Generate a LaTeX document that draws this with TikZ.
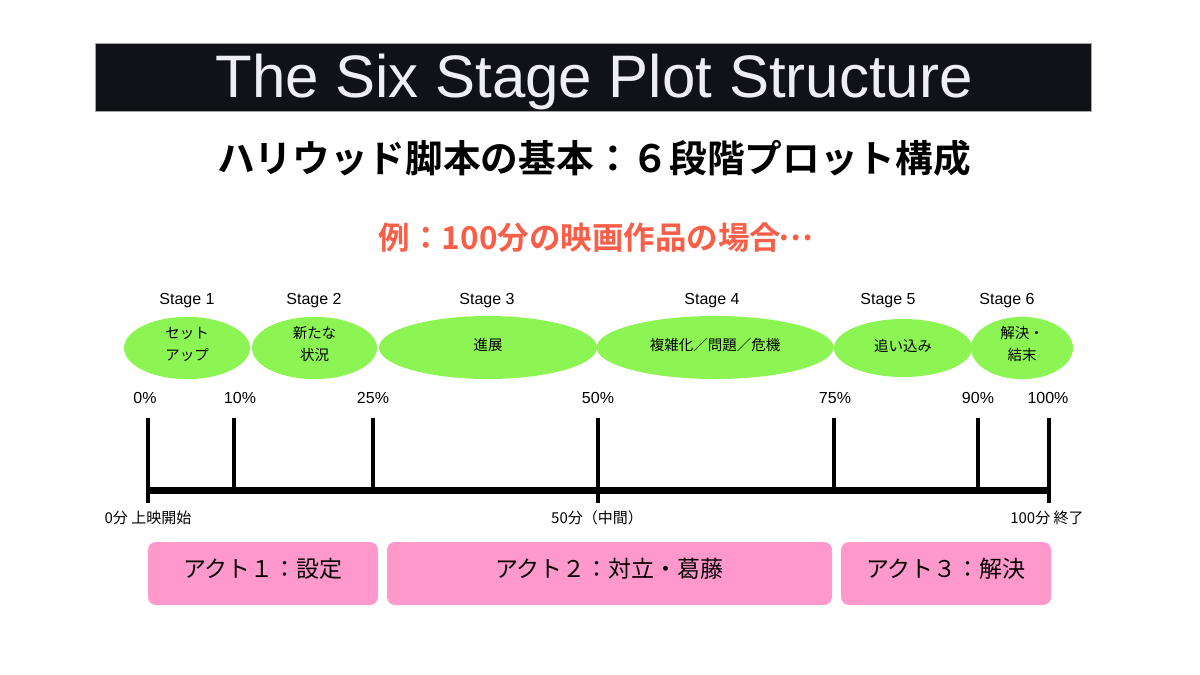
\documentclass[tikz,border=0pt]{standalone}
\usepackage{fontspec}
\setmainfont{Liberation Sans}
\newfontfamily\jpfont{Noto Sans CJK JP}[BoldFont={Noto Sans CJK JP Bold}]
\usetikzlibrary{calc}
\usetikzlibrary{shapes.geometric}

\definecolor{barblack}{HTML}{111217}
\definecolor{titlewhite}{HTML}{EEEEF4}
\definecolor{examplered}{HTML}{F95F48}
\definecolor{stagegreen}{HTML}{8CF553}
\definecolor{actpink}{HTML}{FF99CC}

% lift a label a little inside its shape
\newcommand{\lift}[2]{\raisebox{#1}[\height][\depth]{#2}}
\newcommand{\twolines}[2]{\begin{tabular}{@{}c@{}}#1\\#2\end{tabular}}

\tikzset{
  stagelabel/.style={anchor=base,font=\fontsize{16}{19}\selectfont},
  pctlabel/.style={anchor=base,font=\fontsize{16}{19}\selectfont},
  stageblob/.style={ellipse,fill=stagegreen,inner sep=0pt,align=center,
    font=\jpfont\fontsize{14.5}{22}\selectfont},
  timelabel/.style={font=\jpfont\fontsize{15}{18}\selectfont},
  actbox/.style={fill=actpink,rounded corners=8pt,minimum height=63pt,inner sep=0pt,
    font=\jpfont\fontsize{23}{26}\selectfont},
  tick/.style={line width=4pt}
}

\begin{document}
\begin{tikzpicture}[x=1pt,y=-1pt]
    \useasboundingbox (0,0) rectangle (1200,675);
    \fill[white] (0,0) rectangle (1200,675);
    % title bar
    \node[fill=barblack,draw=gray!70,minimum width=996pt,minimum height=68pt,inner sep=0pt] (TitleBar) at (593,77) {};
    \node[anchor=base,text=titlewhite,font=\fontsize{60}{66}\selectfont] (Title) at (594,97) {The Six Stage Plot Structure};
    \node[font=\jpfont\bfseries\fontsize{37.7}{42}\selectfont] (Subtitle) at (594,158) {ハリウッド脚本の基本：６段階プロット構成};
    \node[text=examplered,font=\jpfont\bfseries\fontsize{31.5}{35}\selectfont] (Example) at (595,238) {例：100分の映画作品の場合\makebox[0.95em]{\raisebox{0.3em}{…}}};
    % stages
    \node[stagelabel] (Stage1) at (187,304.5) {Stage 1};
    \node[stagelabel] (Stage2) at (314,304.5) {Stage 2};
    \node[stagelabel] (Stage3) at (487,304.5) {Stage 3};
    \node[stagelabel] (Stage4) at (712,304.5) {Stage 4};
    \node[stagelabel] (Stage5) at (888,304.5) {Stage 5};
    \node[stagelabel] (Stage6) at (1007,304.5) {Stage 6};
    \node[stageblob,minimum width=126pt,minimum height=58pt] (Blob1) at (187,348) {\lift{3pt}{\twolines{セット}{アップ}}};
    \node[stageblob,minimum width=125pt,minimum height=58pt] (Blob2) at (314.5,348) {\lift{3pt}{\twolines{新たな}{状況}}};
    \node[stageblob,minimum width=218pt,minimum height=63pt] (Blob3) at (488,347.5) {\lift{2.5pt}{進展}};
    \node[stageblob,minimum width=237pt,minimum height=63pt] (Blob4) at (715,347.5) {\lift{2.5pt}{複雑化／問題／危機}};
    \node[stageblob,minimum width=138pt,minimum height=58pt] (Blob5) at (903,348) {\lift{2.5pt}{追い込み}};
    \node[stageblob,minimum width=102pt,minimum height=58pt] (Blob6) at (1022,348) {\lift{3pt}{\twolines{解決・}{結末}}};
    % percentages
    \node[pctlabel] (Pct0) at (145,403) {0\%};
    \node[pctlabel] (Pct10) at (240,403) {10\%};
    \node[pctlabel] (Pct25) at (373,403) {25\%};
    \node[pctlabel] (Pct50) at (598,403) {50\%};
    \node[pctlabel] (Pct75) at (835,403) {75\%};
    \node[pctlabel] (Pct90) at (978,403) {90\%};
    \node[pctlabel] (Pct100) at (1048,403) {100\%};
    % time line
    \coordinate (Mark0) at (148,490);
    \coordinate (Mark10) at (234,490);
    \coordinate (Mark25) at (373,490);
    \coordinate (Mark50) at (598,490);
    \coordinate (Mark75) at (834,490);
    \coordinate (Mark90) at (978,490);
    \coordinate (Mark100) at (1049,490);
    \draw[line width=7pt] (Mark0)--(Mark100);
    \draw[tick] (Mark10)--++(0,-72);
    \draw[tick] (Mark25)--++(0,-72);
    \draw[tick] (Mark75)--++(0,-72);
    \draw[tick] (Mark90)--++(0,-72);
    \draw[tick] ($(Mark0)+(0,13)$)--++(0,-85);
    \draw[tick] ($(Mark50)+(0,13)$)--++(0,-85);
    \draw[tick] ($(Mark100)+(0,13)$)--++(0,-85);
    \node[timelabel] (Start) at (148,518) {0分 上映開始};
    \node[timelabel] (Middle) at (597,518) {50分（中間）};
    \node[timelabel] (End) at (1047,518) {100分 終了};
    % acts
    \node[actbox,minimum width=230pt] (Act1) at (263,573.5) {\lift{5pt}{アクト１：設定}};
    \node[actbox,minimum width=445pt] (Act2) at (609.5,573.5) {\lift{5pt}{アクト２：対立・葛藤}};
    \node[actbox,minimum width=210pt] (Act3) at (946,573.5) {\lift{5pt}{アクト３：解決}};
\end{tikzpicture}
\end{document}
